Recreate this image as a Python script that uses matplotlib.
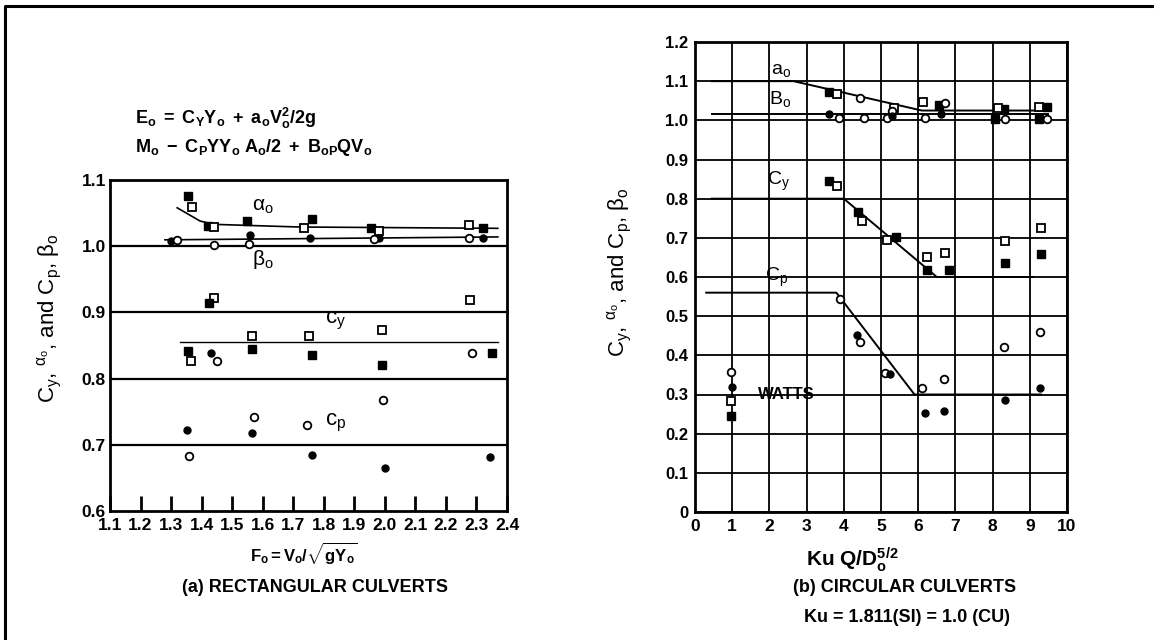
import matplotlib
matplotlib.use("Agg")
import matplotlib.pyplot as plt
from matplotlib.lines import Line2D

plt.rcParams['font.family'] = ['Liberation Sans', 'DejaVu Sans']
plt.rcParams['mathtext.fontset'] = 'custom'
plt.rcParams['mathtext.rm'] = 'Liberation Sans'
plt.rcParams['mathtext.it'] = 'Liberation Sans'
plt.rcParams['mathtext.bf'] = 'Liberation Sans:bold'

# ---- (a) rectangular culverts ----
a_xticks = [1.1, 1.2, 1.3, 1.4, 1.5, 1.6, 1.7, 1.8, 1.9, 2.0, 2.1, 2.2, 2.3, 2.4]
a_xlabels = ["1.1", "1.2", "1.3", "1.4", "1.5", "1.6", "1.7", "1.8", "1.9", "2.0", "2.1", "2.2", "2.3", "2.4"]
a_yticks = [0.6, 0.7, 0.8, 0.9, 1.0, 1.1]
a_ylabels = ["0.6", "0.7", "0.8", "0.9", "1.0", "1.1"]
a_hlines = [0.7, 0.8, 0.9, 1.0]

a_alpha_fsq_x = [1.356, 1.42, 1.55, 1.76, 1.955, 2.32]
a_alpha_fsq_y = [1.076, 1.030, 1.038, 1.041, 1.027, 1.027]
a_alpha_osq_x = [1.37, 1.44, 1.735, 1.98, 2.275]
a_alpha_osq_y = [1.059, 1.029, 1.027, 1.023, 1.032]
a_beta_fci_x = [1.30, 1.56, 1.755, 1.98, 2.32]
a_beta_fci_y = [1.008, 1.017, 1.013, 1.013, 1.013]
a_beta_oci_x = [1.32, 1.44, 1.555, 1.965, 2.275]
a_beta_oci_y = [1.009, 1.002, 1.004, 1.011, 1.012]
a_cy_osq_x = [1.44, 1.365, 1.565, 1.75, 1.99, 2.28]
a_cy_osq_y = [0.921, 0.826, 0.865, 0.865, 0.874, 0.919]
a_cy_fsq_x = [1.425, 1.355, 1.565, 1.76, 1.99, 2.35]
a_cy_fsq_y = [0.914, 0.842, 0.845, 0.835, 0.821, 0.838]
a_cy_oci_x = [1.45, 2.285]
a_cy_oci_y = [0.827, 0.838]
a_cy_fci_x = [1.43]
a_cy_fci_y = [0.839]
a_cp_fci_x = [1.353, 1.565, 1.76, 2.0, 2.345]
a_cp_fci_y = [0.723, 0.718, 0.685, 0.665, 0.682]
a_cp_oci_x = [1.57, 1.745, 1.995, 1.36]
a_cp_oci_y = [0.742, 0.730, 0.767, 0.683]

a_alpha_line_x = [1.32, 1.395, 1.44, 1.72, 2.37]
a_alpha_line_y = [1.058, 1.038, 1.033, 1.029, 1.027]
a_beta_line_x = [1.28, 2.37]
a_beta_line_y = [1.0096, 1.014]
a_cy_line_x = [1.33, 2.37]
a_cy_line_y = [0.856, 0.856]

# ---- (b) circular culverts ----
b_xticks = [0, 1, 2, 3, 4, 5, 6, 7, 8, 9, 10]
b_yticks = [0, 0.1, 0.2, 0.3, 0.4, 0.5, 0.6, 0.7, 0.8, 0.9, 1.0, 1.1, 1.2]
b_ylabels = ["0", "0.1", "0.2", "0.3", "0.4", "0.5", "0.6", "0.7", "0.8", "0.9", "1.0", "1.1", "1.2"]

b_top_fsq_x = [3.59, 6.55, 8.3, 9.46, 8.07, 9.24]
b_top_fsq_y = [1.073, 1.040, 1.030, 1.035, 1.003, 1.004]
b_top_osq_x = [3.83, 5.34, 6.14, 8.15, 9.26]
b_top_osq_y = [1.066, 1.032, 1.046, 1.031, 1.035]
b_top_oci_x = [4.44, 6.73, 5.3, 3.86, 4.53, 5.16, 6.19, 8.34, 9.46]
b_top_oci_y = [1.056, 1.044, 1.025, 1.007, 1.007, 1.007, 1.007, 1.003, 1.003]
b_top_fci_x = [3.59, 5.3, 6.6]
b_top_fci_y = [1.017, 1.010, 1.017]
b_cy_fsq_x = [3.61, 4.39, 5.41, 6.23, 6.82, 8.32, 9.3]
b_cy_fsq_y = [0.846, 0.766, 0.703, 0.619, 0.619, 0.637, 0.659]
b_cy_osq_x = [3.83, 4.48, 5.16, 6.23, 6.73, 8.34, 9.3]
b_cy_osq_y = [0.832, 0.743, 0.695, 0.650, 0.662, 0.693, 0.724]
b_cp_oci_x = [3.9, 4.44, 5.1, 6.1, 6.7, 8.31, 9.28]
b_cp_oci_y = [0.543, 0.434, 0.355, 0.316, 0.340, 0.422, 0.460]
b_cp_fci_x = [4.35, 5.25, 6.19, 6.7, 8.32, 9.28]
b_cp_fci_y = [0.451, 0.352, 0.254, 0.258, 0.286, 0.317]
watts_oci = (0.96, 0.357)
watts_fci = (1.0, 0.318)
watts_osq = (0.97, 0.283)
watts_fsq = (0.97, 0.245)

b_a_line_x = [0.45, 2.65, 6.1, 9.5]
b_a_line_y = [1.1, 1.1, 1.025, 1.025]
b_b_line_x = [0.45, 9.5]
b_b_line_y = [1.015, 1.015]
b_cy_line_x = [0.45, 4.0, 6.5, 9.1]
b_cy_line_y = [0.8, 0.8, 0.6, 0.6]
b_cp_line_x = [0.3, 3.8, 5.9, 9.3]
b_cp_line_y = [0.56, 0.56, 0.3, 0.3]

W, H = 1154, 640
fig = plt.figure(figsize=(W / 100, H / 100), dpi=100)


def fx(px):
    return px / W


def fy(py):
    return 1 - py / H


def marks(ax, xs, ys, kind, ms=6):
    if kind == "fsq":
        ax.plot(xs, ys, ls="none", marker="s", ms=ms, mfc="black", mec="black", zorder=5)
    elif kind == "osq":
        ax.plot(xs, ys, ls="none", marker="s", ms=ms, mfc="white", mec="black", mew=1.3, zorder=5)
    elif kind == "fci":
        ax.plot(xs, ys, ls="none", marker="o", ms=ms - 1, mfc="black", mec="black", zorder=5)
    else:
        ax.plot(xs, ys, ls="none", marker="o", ms=ms - 0.5, mfc="white", mec="black", mew=1.3, zorder=5)


# panel a
axa = fig.add_axes([fx(110), fy(511), fx(507 - 110), (511 - 180) / H])
axa.set_xlim(1.1, 2.4)
axa.set_ylim(0.6, 1.1)
for y in a_hlines:
    axa.axhline(y, color="black", lw=1.6, zorder=1)
axa.plot(a_alpha_line_x, a_alpha_line_y, color="black", lw=1.2)
axa.plot(a_beta_line_x, a_beta_line_y, color="black", lw=1.2)
axa.plot(a_cy_line_x, a_cy_line_y, color="black", lw=1.0)
marks(axa, a_alpha_fsq_x, a_alpha_fsq_y, "fsq")
marks(axa, a_alpha_osq_x, a_alpha_osq_y, "osq")
marks(axa, a_beta_fci_x, a_beta_fci_y, "fci")
marks(axa, a_beta_oci_x, a_beta_oci_y, "oci")
marks(axa, a_cy_osq_x, a_cy_osq_y, "osq")
marks(axa, a_cy_fsq_x, a_cy_fsq_y, "fsq")
marks(axa, a_cy_oci_x, a_cy_oci_y, "oci")
marks(axa, a_cy_fci_x, a_cy_fci_y, "fci")
marks(axa, a_cp_fci_x, a_cp_fci_y, "fci")
marks(axa, a_cp_oci_x, a_cp_oci_y, "oci")
axa.text(1.6, 1.045, r"$\alpha_o$", fontsize=15, ha="center", va="bottom")
axa.text(1.6, 0.962, r"$\beta_o$", fontsize=15, ha="center", va="bottom")
axa.text(1.84, 0.87, r"c$_y$", fontsize=16, ha="center", va="bottom")
axa.text(1.84, 0.717, r"c$_p$", fontsize=16, ha="center", va="bottom")
axa.set_xticks(a_xticks)
axa.set_xticklabels(a_xlabels, fontsize=12.5, fontweight="bold")
axa.set_yticks(a_yticks)
axa.set_yticklabels(a_ylabels, fontsize=12.5, fontweight="bold")
axa.tick_params(axis="x", direction="in", length=11, width=2, pad=5)
axa.tick_params(axis="y", length=0, pad=3)
for s in axa.spines.values():
    s.set_linewidth(2)

# panel b
axb = fig.add_axes([fx(695), fy(512), fx(1067 - 695), (512 - 42) / H])
axb.set_xlim(0, 10)
axb.set_ylim(0, 1.2)
axb.set_xticks(b_xticks)
axb.set_xticklabels([str(v) for v in b_xticks], fontsize=12.5, fontweight="bold")
axb.set_yticks(b_yticks)
axb.set_yticklabels(b_ylabels, fontsize=12, fontweight="bold")
axb.tick_params(length=0, pad=5)
axb.grid(True, color="black", lw=1.3)
axb.set_axisbelow(True)
for s in axb.spines.values():
    s.set_linewidth(2)
axb.plot(b_a_line_x, b_a_line_y, color="black", lw=1.4)
axb.plot(b_b_line_x, b_b_line_y, color="black", lw=1.4)
axb.plot(b_cy_line_x, b_cy_line_y, color="black", lw=1.4)
axb.plot(b_cp_line_x, b_cp_line_y, color="black", lw=1.4)
marks(axb, b_top_fsq_x, b_top_fsq_y, "fsq")
marks(axb, b_top_osq_x, b_top_osq_y, "osq")
marks(axb, b_top_oci_x, b_top_oci_y, "oci")
marks(axb, b_top_fci_x, b_top_fci_y, "fci")
marks(axb, b_cy_fsq_x, b_cy_fsq_y, "fsq")
marks(axb, b_cy_osq_x, b_cy_osq_y, "osq")
marks(axb, b_cp_oci_x, b_cp_oci_y, "oci")
marks(axb, b_cp_fci_x, b_cp_fci_y, "fci")
marks(axb, [watts_oci[0]], [watts_oci[1]], "oci")
marks(axb, [watts_fci[0]], [watts_fci[1]], "fci")
marks(axb, [watts_osq[0]], [watts_osq[1]], "osq")
marks(axb, [watts_fsq[0]], [watts_fsq[1]], "fsq")
axb.text(2.3, 1.105, r"a$_o$", fontsize=14, ha="center", va="bottom")
axb.text(2.3, 1.03, r"B$_o$", fontsize=14, ha="center", va="bottom")
axb.text(2.25, 0.815, r"C$_y$", fontsize=14, ha="center", va="bottom")
axb.text(2.2, 0.57, r"C$_p$", fontsize=14, ha="center", va="bottom")
axb.text(1.7, 0.3, "WATTS", fontsize=12, fontweight="bold", ha="left", va="center")

# y labels
ylab = r"C$_y$, $^{\alpha_o}$, and C$_p$, $\beta_o$"
fig.text(fx(50), fy(318), ylab, rotation=90, fontsize=16, ha="center", va="center")
fig.text(fx(620), fy(272), ylab, rotation=90, fontsize=16, ha="center", va="center")

# equations above panel a
fig.text(fx(135), fy(118), r"$\mathbf{E_o\ =\ C_Y Y_o\ +\ a_o V_o^{2}/2g}$", fontsize=13, ha="left", va="center")
fig.text(fx(135), fy(147), r"$\mathbf{M_o\ -\ C_P YY_o\ A_o/2\ +\ B_{oP} QV_o}$", fontsize=13, ha="left", va="center")

# bottom captions
fig.text(fx(304), fy(554), r"$\mathbf{F_o = V_o/\sqrt{gY_o}}$", fontsize=12, ha="center", va="center")
fig.text(fx(315), fy(588), "(a) RECTANGULAR CULVERTS", fontsize=13, fontweight="bold", ha="center", va="center")
fig.text(fx(852), fy(560), r"$\mathbf{Ku\ Q/D_o^{5/2}}$", fontsize=15, ha="center", va="center")
fig.text(fx(905), fy(587), "(b) CIRCULAR CULVERTS", fontsize=13, fontweight="bold", ha="center", va="center")
fig.text(fx(907), fy(618), "Ku = 1.811(SI) = 1.0 (CU)", fontsize=13, fontweight="bold", ha="center", va="center")

# outer frame (top and left edges only)
fig.add_artist(Line2D([fx(5), fx(5), 1.0], [0.0, fy(6), fy(6)], color="black", lw=2.2,
                      transform=fig.transFigure))

fig.savefig("out.png", dpi=100)
